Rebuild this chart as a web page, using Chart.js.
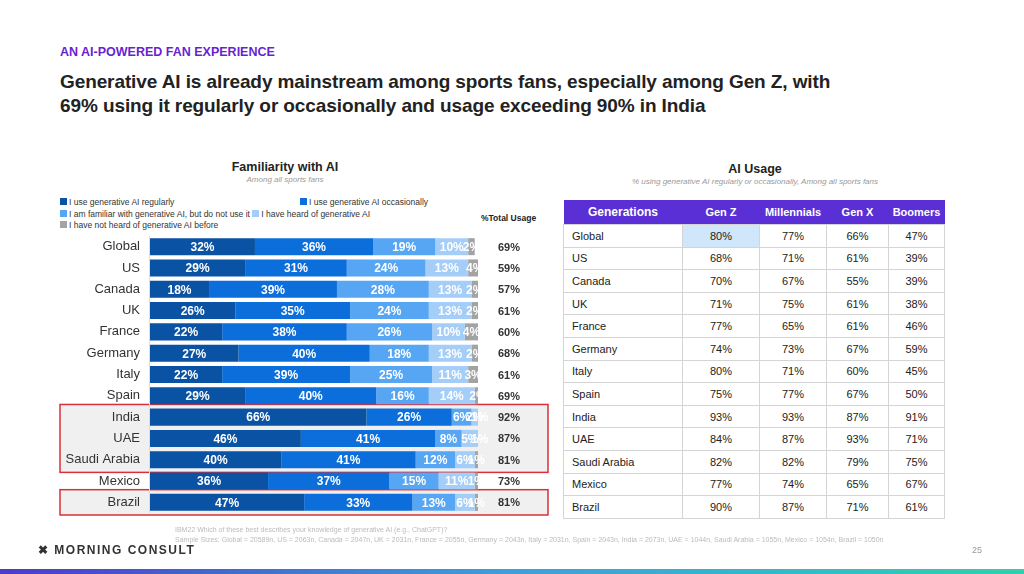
<!DOCTYPE html>
<html>
<head>
<meta charset="utf-8">
<script src="https://cdn.jsdelivr.net/npm/chart.js@4"></script>
<style>
  body { margin: 0; width: 1024px; height: 574px; background: #fff; font-family: Arial, "Liberation Sans", sans-serif; position: relative; overflow: hidden; }
  .abs { position: absolute; }
  #kicker { left: 60px; top: 45px; color: #6a1fd0; font-weight: bold; font-size: 12.5px; }
  #title { left: 60px; top: 70px; white-space: nowrap; font-size: 19px; font-weight: bold; color: #222; line-height: 24px; letter-spacing: -0.1px; }
  .ctitle { font-weight: bold; font-size: 12.5px; color: #222; text-align: center; }
  .csub { font-style: italic; font-size: 8px; color: #999; text-align: center; }
  #legend { left: 60px; top: 197px; font-size: 8.5px; color: #333; line-height: 11.5px; }
  #legend span.sw { display: inline-block; width: 7px; height: 7px; margin-right: 2px; vertical-align: -0px; }
  #tbl { left: 563px; top: 200px; width: 382px; border-collapse: collapse; font-size: 11px; color: #222; }
  #tbl th { background: #5b2fd6; color: #fff; font-weight: bold; height: 22px; font-size: 11px; }
  #tbl th:first-child { font-size: 12px; }
  #tbl td { height: 21.6px; border: 1px solid #d4d4d4; text-align: center; padding: 0; }
  #tbl td:first-child { text-align: left; padding-left: 8px; }
  #foot { left: 175px; top: 525px; font-size: 7px; color: #bbb; line-height: 10px; }
  #logo { left: 38px; top: 543px; font-size: 12px; font-weight: bold; letter-spacing: 1.5px; color: #333; }
  #pg { left: 972px; top: 545px; font-size: 9px; color: #999; }
  #bar { left: 0; top: 569px; width: 1024px; height: 5px; background: linear-gradient(90deg, #4a3cc8, #3aa0e0, #30d0b0); }
</style>
</head>
<body>
<div class="abs" id="kicker">AN AI-POWERED FAN EXPERIENCE</div>
<div class="abs" id="title">Generative AI is already mainstream among sports fans, especially among Gen Z, with<br>69% using it regularly or occasionally and usage exceeding 90% in India</div>

<div class="abs ctitle" style="left:160px;top:160px;width:250px;">Familiarity with AI</div>
<div class="abs csub" style="left:160px;top:175px;width:250px;">Among all sports fans</div>
<div class="abs" id="legend"></div>
<div class="abs" style="left:481px;top:213px;font-size:8.5px;font-weight:bold;color:#222;">%Total Usage</div>

<div class="abs ctitle" style="left:600px;top:162px;width:310px;">AI Usage</div>
<div class="abs csub" style="left:560px;top:177px;width:390px;">% using generative AI regularly or occasionally, Among all sports fans</div>

<div class="abs" style="left:55px;top:226px;width:500px;height:300px;"><canvas id="famChart"></canvas></div>
<table class="abs" id="tbl"></table>

<div class="abs" id="foot">IBM22 Which of these best describes your knowledge of generative AI (e.g., ChatGPT)?<br>Sample Sizes: Global = 20589n, US = 2063n, Canada = 2047n, UK = 2031n, France = 2055n, Germany = 2043n, Italy = 2031n, Spain = 2043n, India = 2073n, UAE = 1044n, Saudi Arabia = 1055n, Mexico = 1054n, Brazil = 1050n</div>
<div class="abs" id="logo">&#x2716; MORNING CONSULT</div>
<div class="abs" id="pg">25</div>
<div class="abs" id="bar"></div>

<script>
const countries = ['Global', 'US', 'Canada', 'UK', 'France', 'Germany', 'Italy', 'Spain', 'India', 'UAE', 'Saudi Arabia', 'Mexico', 'Brazil'];

const familiarity = {
    regularly:   [32, 29, 18, 26, 22, 27, 22, 29, 66, 46, 40, 36, 47],
    occasionally:[36, 31, 39, 35, 38, 40, 39, 40, 26, 41, 41, 37, 33],
    familiar:    [19, 24, 28, 24, 26, 18, 25, 16, 6, 8, 12, 15, 13],
    heard:       [10, 13, 13, 13, 10, 13, 11, 14, 2, 5, 6, 11, 6],
    notHeard:    [2, 4, 2, 2, 4, 2, 3, 2, 1, 1, 1, 1, 1]
};
const totalUsage = [69, 59, 57, 61, 60, 68, 61, 69, 92, 87, 81, 73, 81];

const series = [
    { label: 'I use generative AI regularly', key: 'regularly', color: '#0a52a3' },
    { label: 'I use generative AI occasionally', key: 'occasionally', color: '#0b6edb' },
    { label: 'I am familiar with generative AI, but do not use it', key: 'familiar', color: '#57a6f3' },
    { label: 'I have heard of generative AI', key: 'heard', color: '#a4cdf7' },
    { label: 'I have not heard of generative AI before', key: 'notHeard', color: '#a3a3a3' }
];

const usageTable = [
    ['Global', 80, 77, 66, 47],
    ['US', 68, 71, 61, 39],
    ['Canada', 70, 67, 55, 39],
    ['UK', 71, 75, 61, 38],
    ['France', 77, 65, 61, 46],
    ['Germany', 74, 73, 67, 59],
    ['Italy', 80, 71, 60, 45],
    ['Spain', 75, 77, 67, 50],
    ['India', 93, 93, 87, 91],
    ['UAE', 84, 87, 93, 71],
    ['Saudi Arabia', 82, 82, 79, 75],
    ['Mexico', 77, 74, 65, 67],
    ['Brazil', 90, 87, 71, 61]
];

// legend
const leg = document.getElementById('legend');
const item = (s) => '<span class="sw" style="background:' + s.color + '"></span>' + s.label;
leg.innerHTML = '<div style="display:flex;gap:0"><div style="width:240px">' + item(series[0]) + '</div><div>' + item(series[1]) + '</div></div>' +
    '<div>' + item(series[2]) + ' ' + item(series[3]) + '</div>' +
    '<div>' + item(series[4]) + '</div>';

// table
const tbl = document.getElementById('tbl');
let html = '<tr><th style="width:117px">Generations</th><th style="width:75px">Gen Z</th><th style="width:65px">Millennials</th><th style="width:60px">Gen X</th><th>Boomers</th></tr>';
usageTable.forEach((r, i) => {
    html += '<tr>' + r.map((v, j) => {
        let st = '';
        if (i === 0 && j === 1) st = ' style="background:#cfe6fb"';
        return '<td' + st + '>' + (j === 0 ? v : v + '%') + '</td>';
    }).join('') + '</tr>';
});
tbl.innerHTML = html;

const highlightGroups = [[8, 10], [12, 12]];

const decorPlugin = {
    id: 'decor',
    beforeDatasetsDraw(chart) {
        const ctx = chart.ctx;
        const y = chart.scales.y;
        const half = (y.getPixelForValue(1) - y.getPixelForValue(0)) / 2;
        ctx.save();
        highlightGroups.forEach(g => {
            const top = y.getPixelForValue(g[0]) - half - 2;
            const bot = y.getPixelForValue(g[1]) + half + 2;
            ctx.fillStyle = '#f0f0f0';
            ctx.fillRect(5, top, 488, bot - top);
            ctx.strokeStyle = '#d9303a';
            ctx.lineWidth = 1.5;
            ctx.strokeRect(5, top, 488, bot - top);
        });
        ctx.strokeStyle = '#ddd';
        ctx.lineWidth = 1;
        ctx.beginPath();
        ctx.moveTo(chart.chartArea.left - 0.5, chart.chartArea.top);
        ctx.lineTo(chart.chartArea.left - 0.5, chart.chartArea.bottom);
        ctx.stroke();
        ctx.restore();
    },
    afterDatasetsDraw(chart) {
        const ctx = chart.ctx;
        const y = chart.scales.y;
        ctx.save();
        ctx.textBaseline = 'middle';
        countries.forEach((c, i) => {
            const py = y.getPixelForValue(i);
            ctx.fillStyle = '#333';
            ctx.font = '13px Arial';
            ctx.textAlign = 'right';
            ctx.fillText(c, chart.chartArea.left - 10, py);
            ctx.font = 'bold 11px Arial';
            ctx.textAlign = 'left';
            ctx.fillText(totalUsage[i] + '%', chart.chartArea.right + 20, py + 1);
        });
        // bar labels
        ctx.font = 'bold 12px Arial';
        ctx.textAlign = 'center';
        ctx.fillStyle = '#fff';
        chart.data.datasets.forEach((ds, di) => {
            const meta = chart.getDatasetMeta(di);
            meta.data.forEach((bar, i) => {
                ctx.fillText(ds.data[i] + '%', bar.base + (bar.x - bar.base) / 2, bar.y + 1);
            });
        });
        ctx.restore();
    }
};

new Chart(document.getElementById('famChart').getContext('2d'), {
    type: 'bar',
    data: {
        labels: countries,
        datasets: series.map(s => ({
            label: s.label,
            data: familiarity[s.key],
            backgroundColor: s.color,
            borderWidth: 0,
            barPercentage: 0.8,
            categoryPercentage: 1.0
        }))
    },
    options: {
        indexAxis: 'y',
        responsive: true,
        maintainAspectRatio: false,
        animation: false,
        layout: { padding: { left: 95, right: 77, top: 10, bottom: 13 } },
        plugins: { legend: { display: false }, tooltip: { enabled: false } },
        scales: {
            x: { stacked: true, min: 0, max: 100, display: false },
            y: { stacked: true, display: false }
        }
    },
    plugins: [decorPlugin]
});
</script>
</body>
</html>
